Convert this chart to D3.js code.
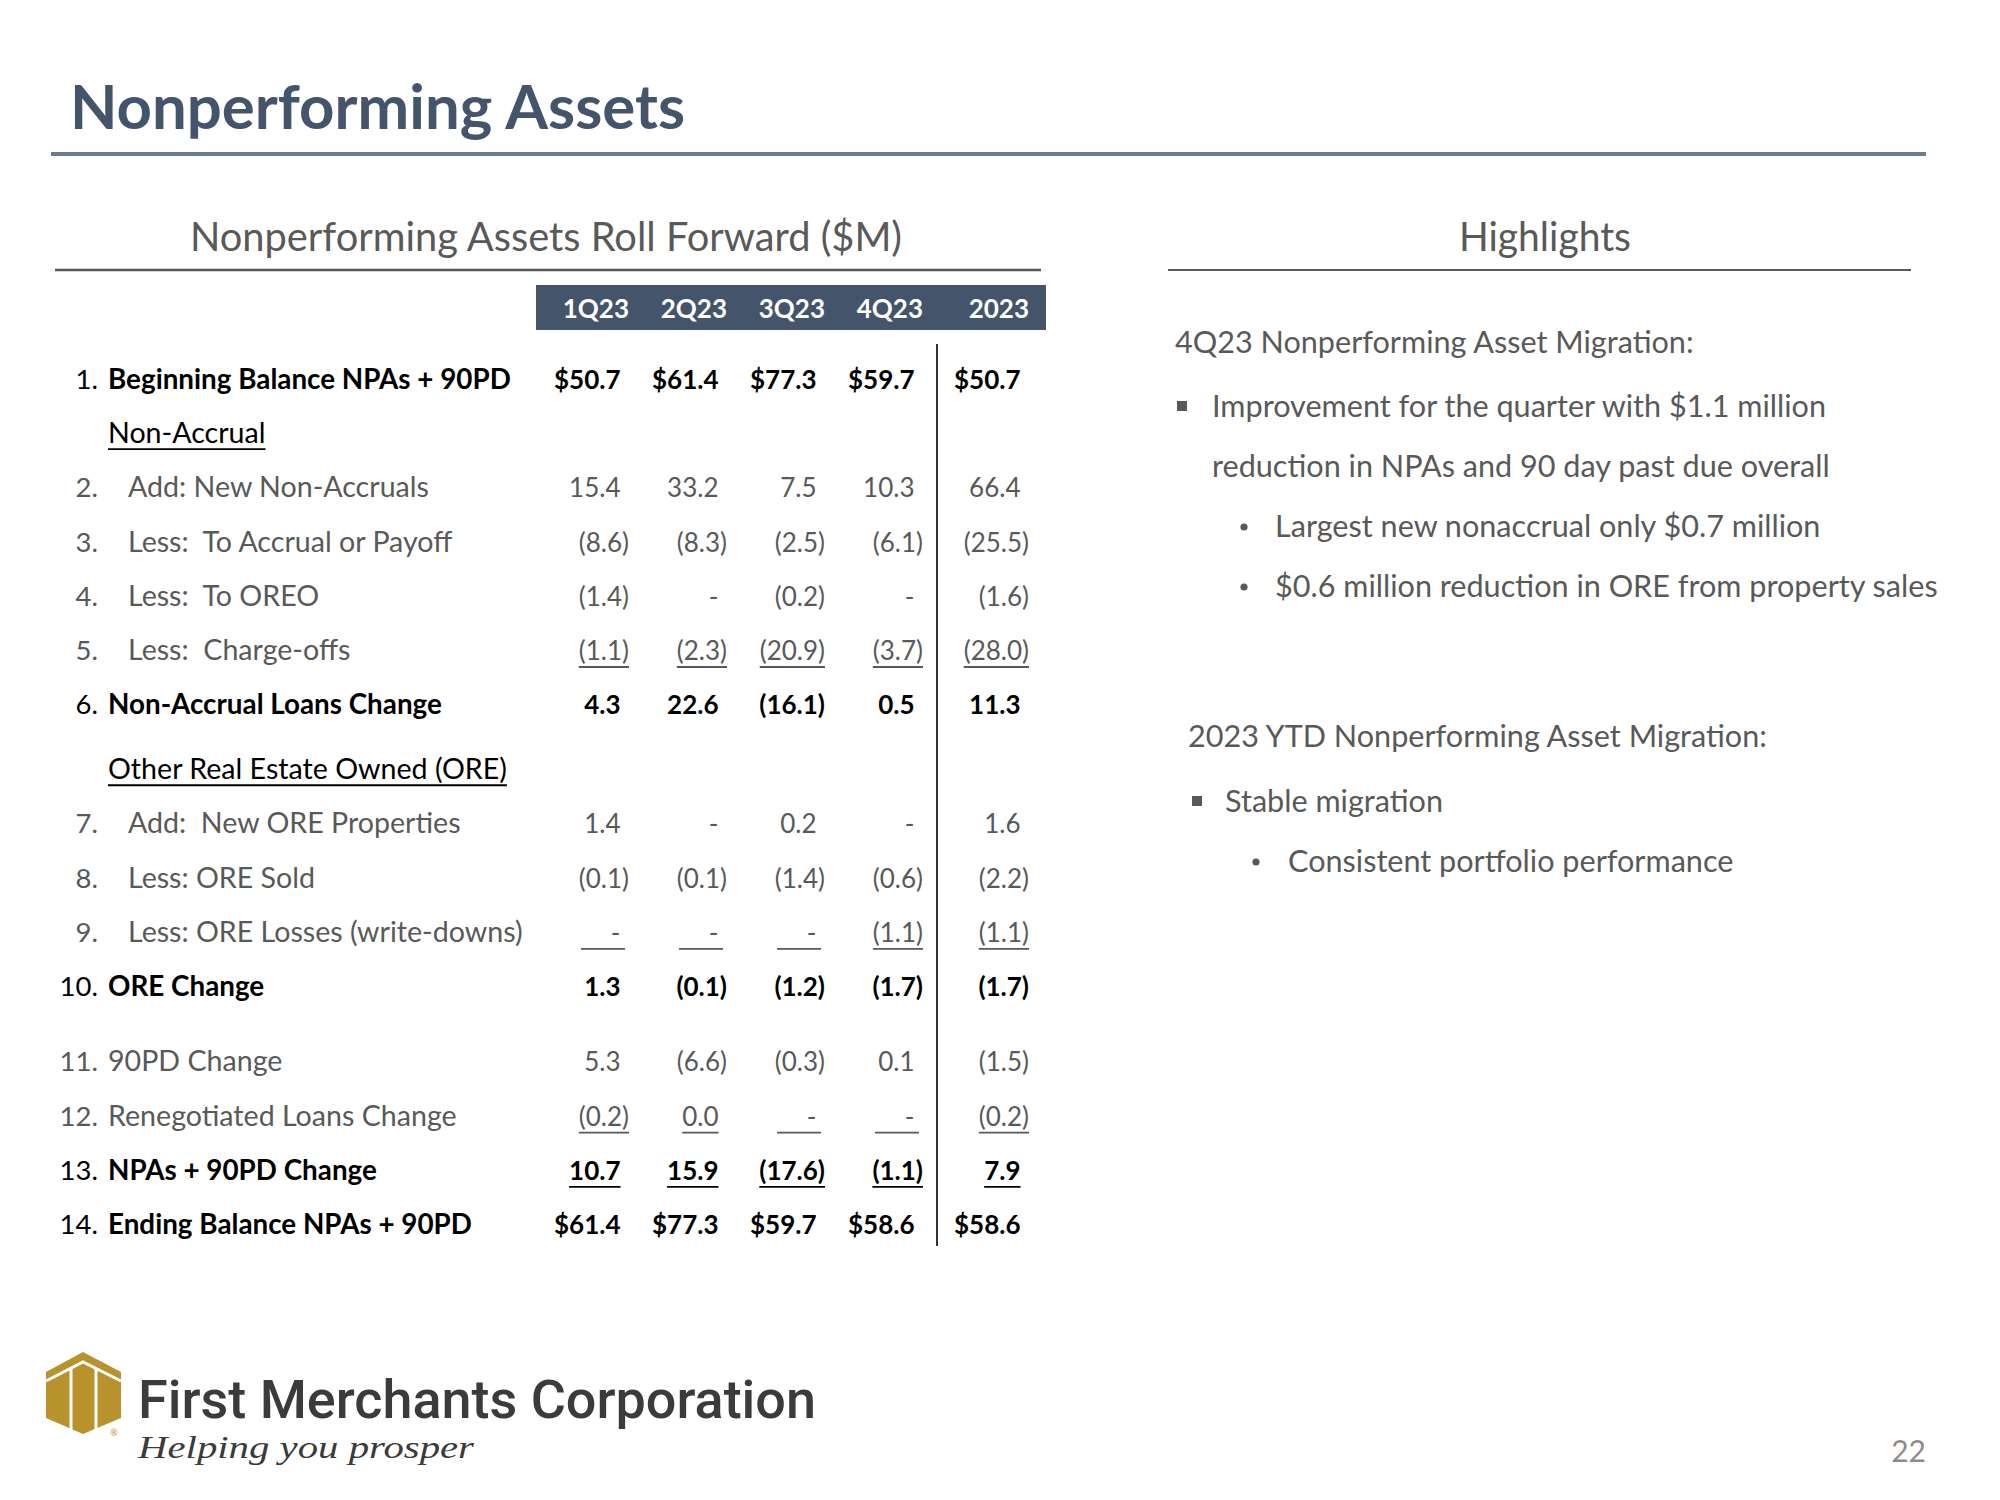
<!DOCTYPE html>
<html><head><meta charset="utf-8">
<script src="https://cdn.jsdelivr.net/npm/d3@7"></script>
<style>body{margin:0;background:#fff} svg{display:block}</style>
</head><body>
<script>
// ---------------- DATA ----------------
const pageTitle = "Nonperforming Assets";
const tableTitle = "Nonperforming Assets Roll Forward ($M)";
const sideTitle = "Highlights";
const columns = ["1Q23", "2Q23", "3Q23", "4Q23", "2023"];
const rowNumbers = ["1.", "", "2.", "3.", "4.", "5.", "6.", "", "7.", "8.", "9.", "10.", "11.", "12.", "13.", "14."];
const rowLabels = [
  "Beginning Balance NPAs + 90PD", "Non-Accrual", "Add: New Non-Accruals",
  "Less:  To Accrual or Payoff", "Less:  To OREO", "Less:  Charge-offs",
  "Non-Accrual Loans Change", "Other Real Estate Owned (ORE)", "Add:  New ORE Properties",
  "Less: ORE Sold", "Less: ORE Losses (write-downs)", "ORE Change",
  "90PD Change", "Renegotiated Loans Change", "NPAs + 90PD Change", "Ending Balance NPAs + 90PD"
];
const rowKinds = ["total", "section", "sub", "sub", "sub", "sub", "total", "section", "sub", "sub", "sub", "total", "plain", "plain", "total", "total"];
const underlinedRows = [5, 10, 13, 14];
const dollarRows = [0, 15];
// null = "-" (nil); section rows carry no values
const values1Q23 = [50.7, null, 15.4, -8.6, -1.4, -1.1, 4.3, null, 1.4, -0.1, null, 1.3, 5.3, -0.2, 10.7, 61.4];
const values2Q23 = [61.4, null, 33.2, -8.3, null, -2.3, 22.6, null, null, -0.1, null, -0.1, -6.6, 0.0, 15.9, 77.3];
const values3Q23 = [77.3, null, 7.5, -2.5, -0.2, -20.9, -16.1, null, 0.2, -1.4, null, -1.2, -0.3, null, -17.6, 59.7];
const values4Q23 = [59.7, null, 10.3, -6.1, null, -3.7, 0.5, null, null, -0.6, -1.1, -1.7, 0.1, null, -1.1, 58.6];
const values2023 = [50.7, null, 66.4, -25.5, -1.6, -28.0, 11.3, null, 1.6, -2.2, -1.1, -1.7, -1.5, -0.2, 7.9, 58.6];
const highlightItems = [
  {level: 0, text: "4Q23 Nonperforming Asset Migration:"},
  {level: 1, text: "Improvement for the quarter with $1.1 million"},
  {level: 1.5, text: "reduction in NPAs and 90 day past due overall"},
  {level: 2, text: "Largest new nonaccrual only $0.7 million"},
  {level: 2, text: "$0.6 million reduction in ORE from property sales"},
  {level: 0, text: "2023 YTD Nonperforming Asset Migration:"},
  {level: 1, text: "Stable migration"},
  {level: 2, text: "Consistent portfolio performance"}
];
const logoName = "First Merchants Corporation";
const logoTagline = "Helping you prosper";
const pageNumber = "22";

// ---------------- DRAW ----------------
const W = 2000, H = 1500;
const F = "Lato, 'Open Sans', sans-serif";
const svg = d3.select("body").append("svg").attr("width", W).attr("height", H);
svg.append("rect").attr("width", W).attr("height", H).attr("fill", "#fff");

function draw() {
  // Title
  svg.append("text").attr("x", 70).attr("y", 129).text(pageTitle)
    .attr("font-family", F).attr("font-weight", 700).attr("font-size", 62)
    .attr("fill", "#44546A").attr("textLength", 615).attr("lengthAdjust", "spacingAndGlyphs");
  svg.append("line").attr("x1", 51).attr("x2", 1926).attr("y1", 154).attr("y2", 154)
    .attr("stroke", "#6D7B8F").attr("stroke-width", 4);

  // Section titles
  svg.append("text").attr("x", 546).attr("y", 251).attr("text-anchor", "middle").text(tableTitle)
    .attr("font-family", F).attr("font-size", 40).attr("fill", "#595959")
    .attr("textLength", 712).attr("lengthAdjust", "spacingAndGlyphs");
  svg.append("line").attr("x1", 55).attr("x2", 1041).attr("y1", 270).attr("y2", 270)
    .attr("stroke", "#595959").attr("stroke-width", 2.5);
  svg.append("text").attr("x", 1545).attr("y", 251).attr("text-anchor", "middle").text(sideTitle)
    .attr("font-family", F).attr("font-size", 40).attr("fill", "#595959")
    .attr("textLength", 172).attr("lengthAdjust", "spacingAndGlyphs");
  svg.append("line").attr("x1", 1168).attr("x2", 1911).attr("y1", 270).attr("y2", 270)
    .attr("stroke", "#595959").attr("stroke-width", 2);

  // ---- Table ----
  const colValues = [values1Q23, values2Q23, values3Q23, values4Q23, values2023];
  const x = d3.scaleLinear().domain([0, 3]).range([629, 923]);
  const colRight = i => i < 4 ? x(i) : x(i) + 8;
  const extraGap = {7: 0.2, 12: 0.39};
  let acc = 0;
  const slots = rowLabels.map((d, i) => { acc += (extraGap[i] || 0); return i + acc; });
  const y = d3.scaleLinear().domain([0, 1]).range([389, 389 + 54.2]);
  const rowY = i => y(slots[i]);
  const fs = 26;
  const parenW = 8.5;
  const grey = "#595959";
  const colorOf = k => (k === "total" || k === "section") ? "#000" : grey;

  // header bar
  svg.append("rect").attr("x", 536).attr("y", 285).attr("width", 510).attr("height", 45).attr("fill", "#44546A");
  svg.append("g").selectAll("text").data(columns).join("text")
    .attr("x", (d, i) => colRight(i)).attr("y", 318).attr("text-anchor", "end")
    .attr("font-family", F).attr("font-weight", 700).attr("font-size", fs).attr("fill", "#fff").text(d => d);

  // divider
  svg.append("line").attr("x1", 937).attr("x2", 937).attr("y1", 344).attr("y2", 1246)
    .attr("stroke", "#000").attr("stroke-width", 1.6);

  const fmt = d3.format(".1f");
  const fmtVal = (v, r) => {
    if (v === null) return "-";
    const s = (dollarRows.includes(r) ? "$" : "") + fmt(Math.abs(v));
    return v < 0 ? `(${s})` : s;
  };

  rowLabels.forEach((label, r) => {
    const kind = rowKinds[r];
    const yy = rowY(r);
    const col = colorOf(kind);
    if (rowNumbers[r]) {
      svg.append("text").attr("x", 98).attr("y", yy).attr("text-anchor", "end")
        .attr("font-family", F).attr("font-size", 27.5).attr("fill", col).text(rowNumbers[r]);
    }
    const lx = kind === "sub" ? 128 : 108;
    const lt = svg.append("text").attr("x", lx).attr("y", yy)
      .attr("font-family", F).attr("font-size", kind === "total" ? 27.8 : 28.6).attr("fill", col)
      .attr("font-weight", kind === "total" ? 700 : 400)
      .style("white-space", "pre").text(label);
    if (kind === "section") {
      const w = lt.node().getComputedTextLength();
      svg.append("line").attr("x1", lx).attr("x2", lx + w).attr("y1", yy + 6).attr("y2", yy + 6)
        .attr("stroke", "#000").attr("stroke-width", 1.8);
      return;
    }
    colValues.forEach((vals, c) => {
      const v = vals[r];
      const s = fmtVal(v, r);
      const rx = colRight(c) - (s.endsWith(")") ? 0 : parenW);
      const t = svg.append("text").attr("x", rx).attr("y", yy).attr("text-anchor", "end")
        .attr("font-family", F).attr("font-size", fs).attr("fill", col)
        .attr("font-weight", kind === "total" ? 700 : 400).text(s);
      if (underlinedRows.includes(r)) {
        let x1, x2;
        if (v === null) { x2 = colRight(c) - 4; x1 = x2 - 44; }
        else { const w = t.node().getComputedTextLength(); x2 = rx; x1 = rx - w; }
        svg.append("line").attr("x1", x1).attr("x2", x2).attr("y1", yy + 7).attr("y2", yy + 7)
          .attr("stroke", col).attr("stroke-width", 1.8);
      }
    });
  });

  // ---- Highlights ----
  const hlY = [353, 417, 477, 537, 597, 747, 812, 872];
  const hx = [
    {text: 1175}, {bullet: "sq", bx: 1182, text: 1212}, {text: 1212},
    {bullet: "dot", bx: 1244, text: 1275}, {bullet: "dot", bx: 1244, text: 1275},
    {text: 1188}, {bullet: "sq", bx: 1197, text: 1225}, {bullet: "dot", bx: 1256, text: 1288}
  ];
  highlightItems.forEach((h, i) => {
    const p = hx[i];
    svg.append("text").attr("x", p.text).attr("y", hlY[i])
      .attr("font-family", F).attr("font-size", 30.6).attr("fill", grey).text(h.text);
    if (p.bullet === "sq") {
      svg.append("rect").attr("x", p.bx - 5).attr("y", hlY[i] - 16).attr("width", 10).attr("height", 10).attr("fill", grey);
    } else if (p.bullet === "dot") {
      svg.append("circle").attr("cx", p.bx).attr("cy", hlY[i] - 10).attr("r", 3.6).attr("fill", grey);
    }
  });

  // ---- Logo ----
  const gold = "#B8922D";
  const g = svg.append("g");
  g.append("polygon").attr("points", "46,1372 83,1352 121,1372 121,1418 83,1434 46,1418").attr("fill", gold);
  g.append("polyline").attr("points", "46,1381 83,1362 121,1381").attr("fill", "none").attr("stroke", "#fff").attr("stroke-width", 3);
  g.append("line").attr("x1", 71).attr("x2", 71).attr("y1", 1369).attr("y2", 1430).attr("stroke", "#fff").attr("stroke-width", 3);
  g.append("line").attr("x1", 96).attr("x2", 96).attr("y1", 1369).attr("y2", 1430).attr("stroke", "#fff").attr("stroke-width", 3);
  g.append("text").attr("x", 114).attr("y", 1436).attr("text-anchor", "middle").attr("font-family", F)
    .attr("font-size", 9).attr("fill", gold).text("®");
  svg.append("text").attr("x", 138).attr("y", 1418).text(logoName)
    .attr("font-family", "Roboto, sans-serif").attr("font-weight", 500).attr("font-size", 54)
    .attr("fill", "#3B3B3B").attr("textLength", 678).attr("lengthAdjust", "spacingAndGlyphs");
  svg.append("text").attr("x", 138).attr("y", 1458).text(logoTagline)
    .attr("font-family", "'Liberation Serif', 'DejaVu Serif', serif").attr("font-style", "italic").attr("font-size", 31)
    .attr("fill", "#3B3B3B").attr("textLength", 336).attr("lengthAdjust", "spacingAndGlyphs");

  svg.append("text").attr("x", 1926).attr("y", 1462).attr("text-anchor", "end").text(pageNumber)
    .attr("font-family", F).attr("font-size", 30).attr("fill", "#8C8C8C");
}

if (document.fonts && document.fonts.ready) document.fonts.ready.then(draw); else draw();
</script>
</body></html>
